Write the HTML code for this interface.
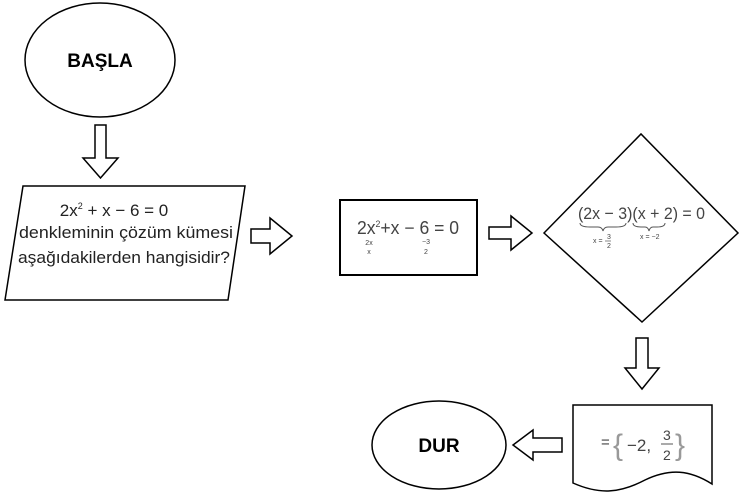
<!DOCTYPE html>
<html><head><meta charset="utf-8"><style>
html,body{margin:0;padding:0;background:#fff;width:741px;height:499px;overflow:hidden}
svg{display:block}
.m{font-family:"Liberation Sans","DejaVu Sans",sans-serif;fill:#444}
</style></head><body>
<svg width="741" height="499" viewBox="0 0 741 499" xmlns="http://www.w3.org/2000/svg">
<g fill="#fff" stroke="#000" stroke-width="1.5">
<ellipse cx="100" cy="60" rx="75" ry="57"/>
<polygon points="95,125 106,125 106,158 118,158 100.5,178 83,158 95,158"/>
<polygon points="23,186 245,186 228,300 5,300"/>
<polygon points="251,229 270,229 270,218 292,236 270,254 270,243 251,243"/>
<rect x="340" y="200" width="137" height="75" stroke-width="2"/>
<polygon points="489,227 511,227 511,216 532,233 511,250 511,239 489,239"/>
<polygon points="544,233 641,134 738,233 642,322"/>
<polygon points="636,338 648,338 648,368 659,368 642,389 625,368 636,368"/>
<path d="M573,405 L712,405 L712,484 C690,470 670,468 645,480 C620,493 600,495 573,483 Z"/>
<polygon points="562,438 533,438 533,430 513,445 533,460 533,452 562,452"/>
<ellipse cx="439" cy="445" rx="67" ry="44"/>
</g>
<g font-family="Liberation Sans,Arial,sans-serif" font-weight="bold" font-size="19" text-anchor="middle" fill="#000">
<text x="100" y="67">BAŞLA</text>
<text x="439" y="452">DUR</text>
</g>
<g class="m" font-size="17" text-anchor="middle">
<text x="114" y="216" fill="#222">2x<tspan font-size="9" dy="-7">2</tspan><tspan dy="7"> + x − 6 = 0</tspan></text>
<text x="126" y="238" fill="#222" textLength="214" lengthAdjust="spacingAndGlyphs">denkleminin çözüm kümesi</text>
<text x="124" y="263" fill="#222" textLength="212" lengthAdjust="spacingAndGlyphs">aşağıdakilerden hangisidir?</text>
</g>
<g class="m">
<text x="357" y="234" font-size="18" textLength="102" lengthAdjust="spacingAndGlyphs">2x<tspan font-size="9" dy="-7">2</tspan><tspan dy="7">+x − 6 = 0</tspan></text>
<g text-anchor="middle">
<text x="369" y="245" font-size="7">2x</text>
<text x="369" y="254" font-size="7">x</text>
<text x="426" y="244" font-size="7">−3</text>
<text x="426" y="254" font-size="7">2</text>
</g>
<text x="578" y="219" font-size="17" textLength="127" lengthAdjust="spacingAndGlyphs">(2x − 3)(x + 2) = 0</text>
<path d="M580,223 q0,4 10,4 h8 q4,0 5,4 q1,-4 5,-4 h8 q10,0 10,-4 M633,223 q0,4 8,4 h4 q3,0 4,4 q1,-4 4,-4 h4 q8,0 8,-4" fill="none" stroke="#555" stroke-width="1"/>
<text x="593" y="243" font-size="7">x =</text>
<text x="607" y="239" font-size="7">3</text>
<line x1="605" y1="241" x2="611" y2="241" stroke="#555" stroke-width="0.7"/>
<text x="607" y="248" font-size="7">2</text>
<text x="640" y="239" font-size="7">x = −2</text>
<text x="601" y="447" font-size="15">=</text>
<text x="613" y="455" font-size="30" fill="#999">{</text>
<text x="627" y="451" font-size="17">−2,</text>
<text x="663" y="440" font-size="14">3</text>
<line x1="661" y1="444" x2="673" y2="444" stroke="#555"/>
<text x="663" y="460" font-size="14">2</text>
<text x="675" y="455" font-size="30" fill="#999">}</text>
</g>
</svg>
</body></html>
